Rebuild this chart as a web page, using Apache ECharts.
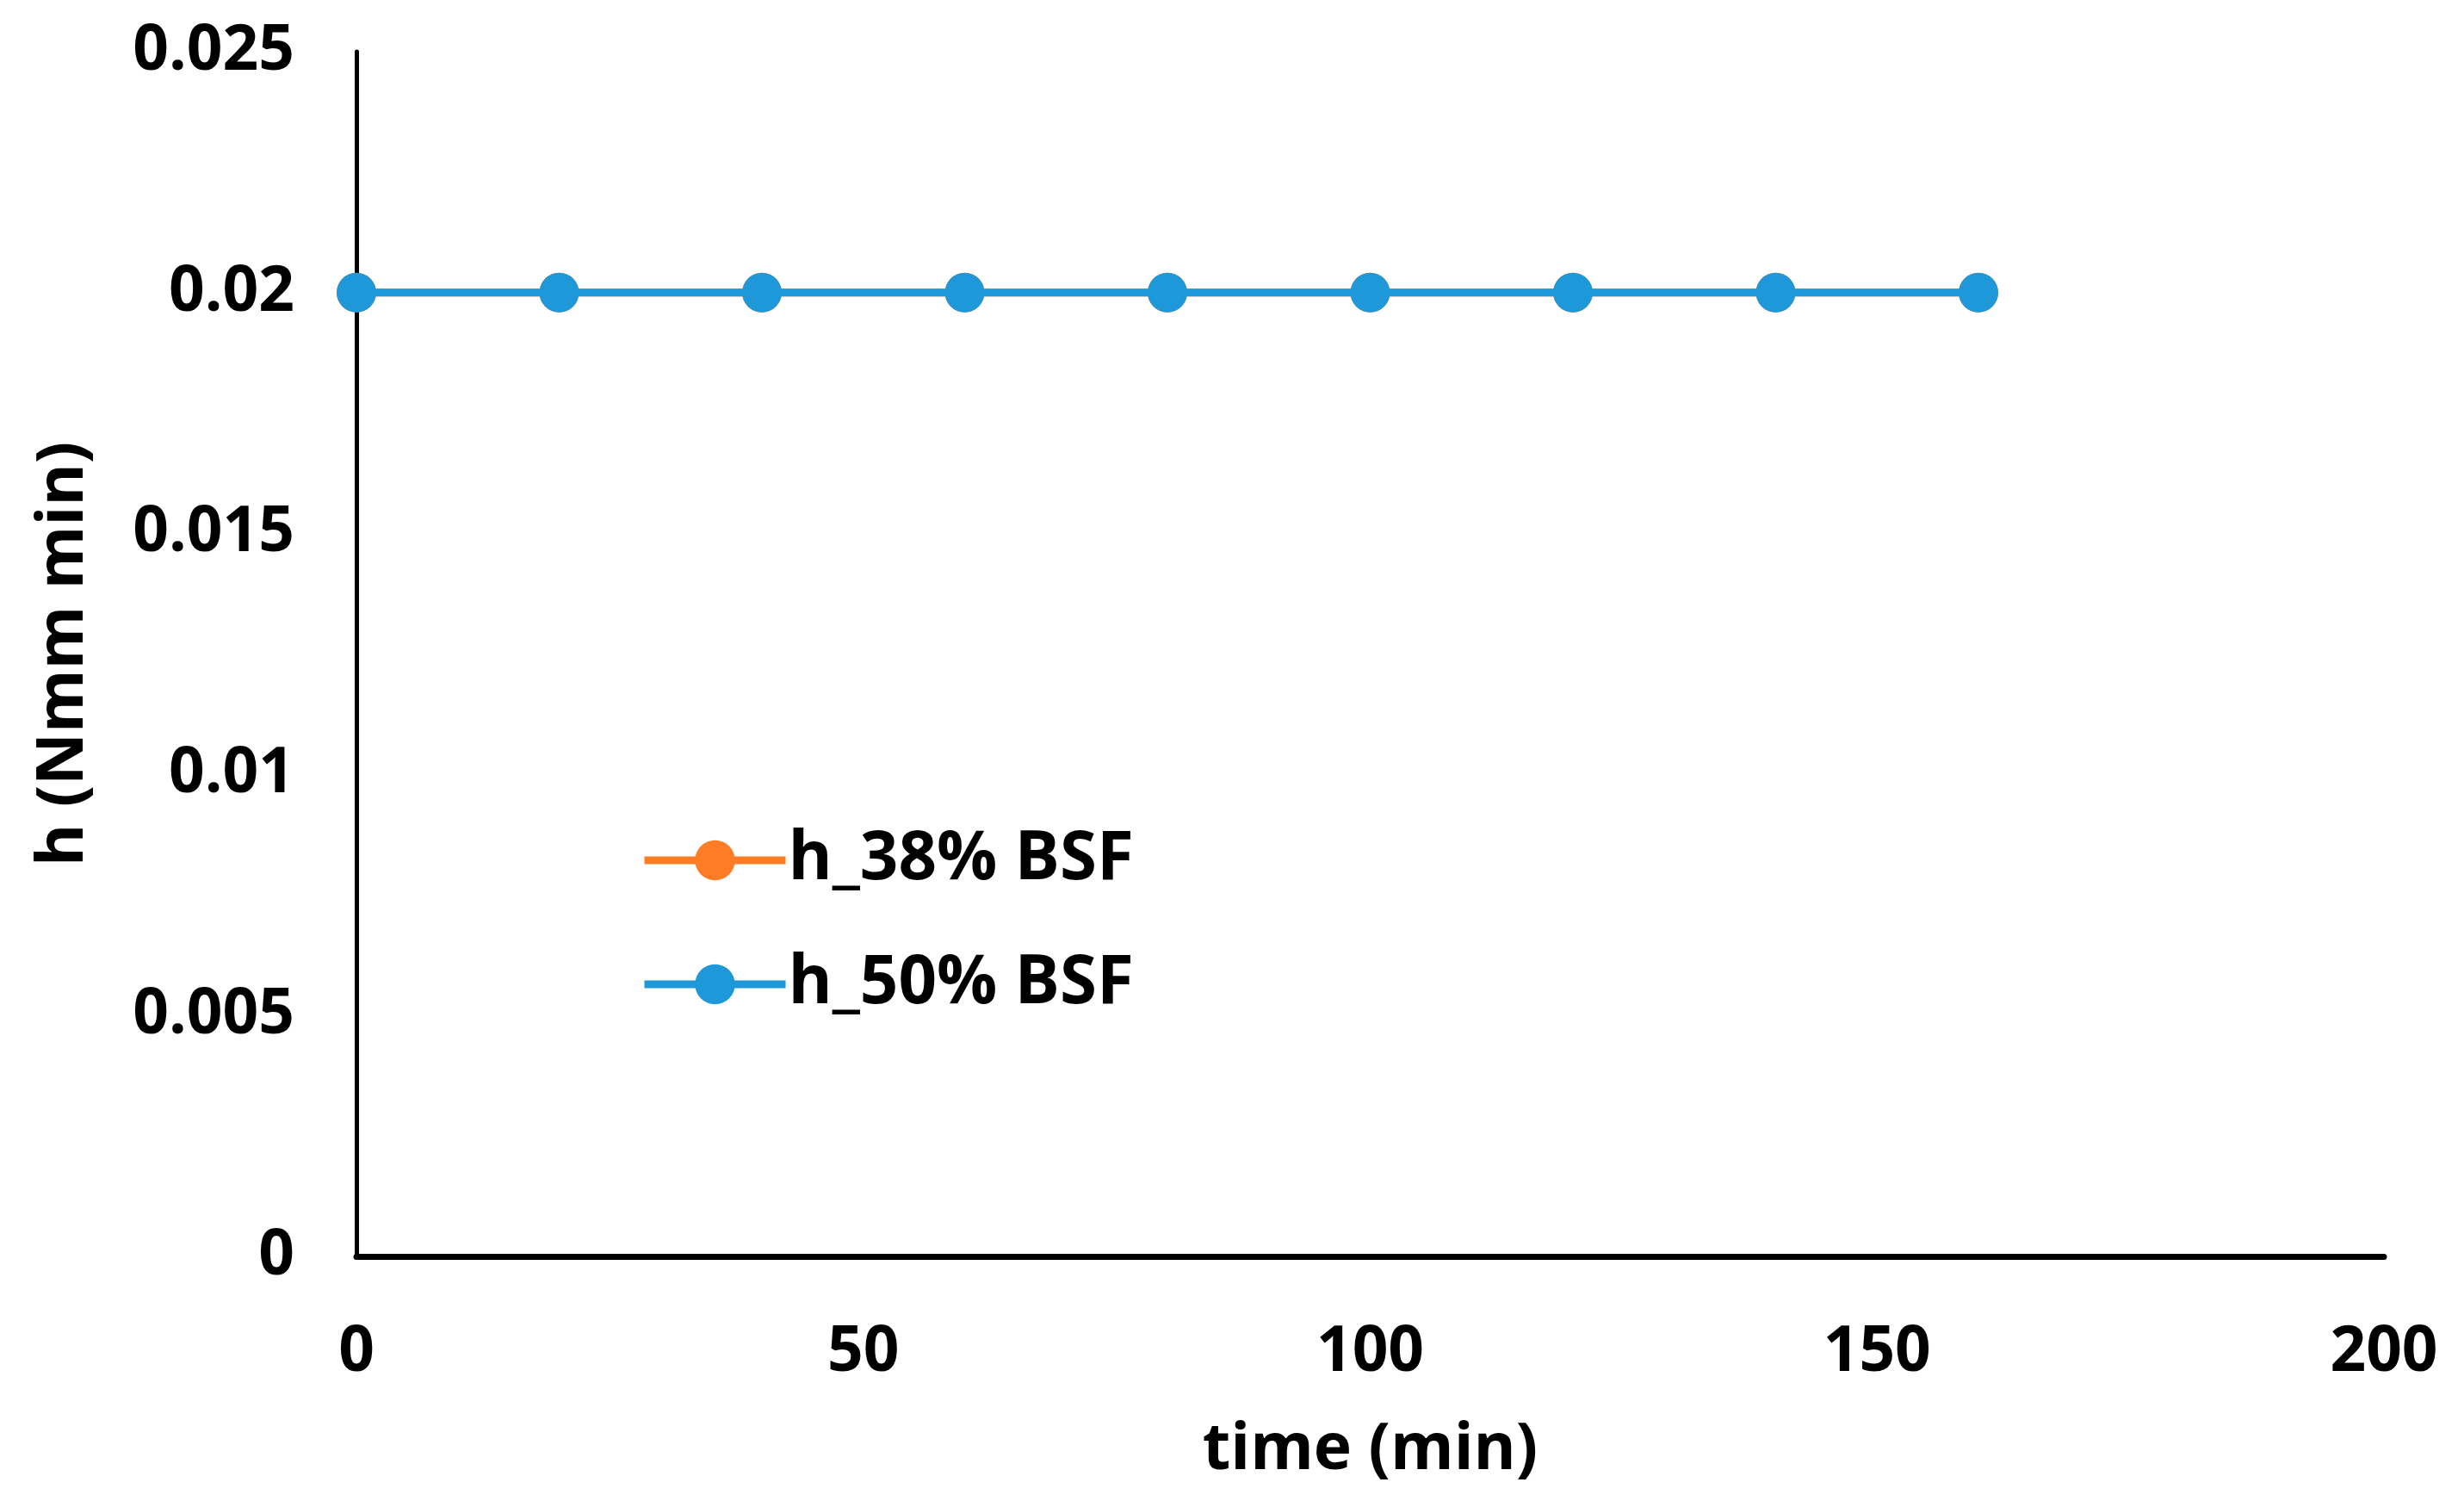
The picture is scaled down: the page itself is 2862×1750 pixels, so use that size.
<!DOCTYPE html>
<html>
<head>
<meta charset="utf-8">
<script src="https://cdn.jsdelivr.net/npm/echarts@6/dist/echarts.min.js"></script>
<style>html,body{margin:0;padding:0;background:#fff;}#c{width:2862px;height:1750px;}</style>
</head>
<body>
<div id="c"></div>
<script>
var timeMin = [0, 20, 40, 60, 80, 100, 120, 140, 160];
var h38 = [0.02, 0.02, 0.02, 0.02, 0.02, 0.02, 0.02, 0.02, 0.02];
var h50 = [0.02, 0.02, 0.02, 0.02, 0.02, 0.02, 0.02, 0.02, 0.02];
var seriesNames = ['h_38% BSF', 'h_50% BSF'];

function pairs(xs, ys) { return xs.map(function (x, i) { return [x, ys[i]]; }); }

var FONT = 'Open Sans';
var chart = echarts.init(document.getElementById('c'));
chart.setOption({
  backgroundColor: '#fff',
  animation: false,
  grid: { left: 414, right: 93, top: 60, bottom: 291, containLabel: false },
  legend: {
    left: 739, top: 955, orient: 'vertical',
    itemWidth: 164, itemHeight: 58, itemGap: 66,
    lineStyle: { width: 9 },
    textStyle: { fontFamily: FONT, fontWeight: 'bold', fontSize: 78, color: '#000', padding: [0,0,0,-2] },
    data: seriesNames
  },
  xAxis: {
    type: 'value', min: 0, max: 200, interval: 50,
    name: 'time (min)', nameLocation: 'middle', nameGap: 188,
    nameTextStyle: { fontFamily: FONT, fontWeight: 'bold', fontSize: 75, color: '#000' },
    axisLine: { show: true, lineStyle: { color: '#000', width: 7 } },
    axisTick: { show: false },
    splitLine: { show: false },
    axisLabel: { fontFamily: FONT, fontWeight: 'bold', fontSize: 73, color: '#000', margin: 76 }
  },
  yAxis: {
    type: 'value', min: 0, max: 0.025, interval: 0.005,
    name: 'h (Nmm min)', nameLocation: 'middle', nameGap: 302,
    nameTextStyle: { fontFamily: FONT, fontWeight: 'bold', fontSize: 75, color: '#000' },
    axisLine: { show: true, lineStyle: { color: '#000', width: 5 } },
    axisTick: { show: false },
    splitLine: { show: false },
    axisLabel: { fontFamily: FONT, fontWeight: 'bold', fontSize: 73, color: '#000', margin: 72 }
  },
  series: [
    {
      name: seriesNames[0], type: 'line', data: pairs(timeMin, h38),
      symbol: 'circle', symbolSize: 46,
      lineStyle: { color: '#FF7C27', width: 9 }, itemStyle: { color: '#FF7C27' }, z: 2
    },
    {
      name: seriesNames[1], type: 'line', data: pairs(timeMin, h50),
      symbol: 'circle', symbolSize: 46,
      lineStyle: { color: '#1E98D8', width: 9 }, itemStyle: { color: '#1E98D8' }, z: 3
    }
  ]
});
</script>
</body>
</html>
